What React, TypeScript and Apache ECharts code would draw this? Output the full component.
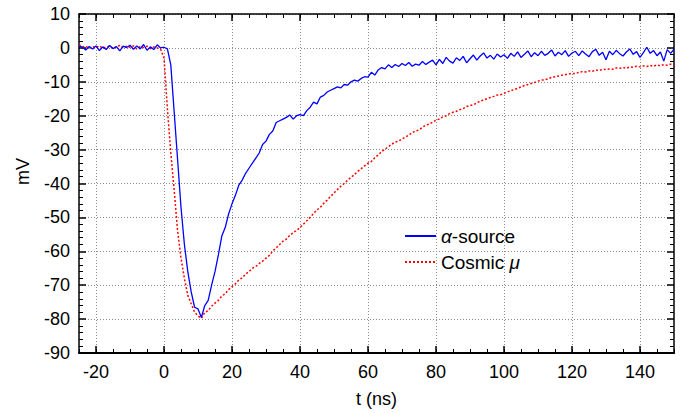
import React, { useEffect, useRef } from 'react';
import * as echarts from 'echarts';

// sampling grid of the traces (ns)
const T_START = -25;
const T_STEP = 1;

// alpha-source trace, mV, t = -25 .. 150 ns
const alphaSource = [
  0.5, 0.2, -0.6, 0.4, -0.3, 0.6, -0.8, 0.3, -0.5, 0.7, // -25..-16
  -0.2, 0.4, -0.9, 0.5, 0.1, 0.8, -0.4, 0.6, -0.3, 1.0, // -15..-6
  -0.7, 0.3, -0.5, 0.9, 0.0, 0.2, -0.3, -5, -19, -33, // -5..4
  -47, -58, -66, -72, -76.5, -77, -79.5, -76, -74.5, -70, // 5..14
  -66, -61, -55.5, -53, -49, -46, -43.5, -40.5, -39, -37, // 15..24
  -35.5, -34, -32.5, -31, -28.5, -27.5, -25.5, -24.5, -22, -21.5, // 25..34
  -21, -20.5, -19.8, -21, -20, -19.7, -20, -18.5, -17.5, -16, // 35..44
  -16.5, -14.5, -14, -13, -12.5, -12, -11.5, -11.8, -10.8, -11, // 45..54
  -10, -9.5, -9.8, -9.0, -8.5, -8.6, -7.2, -8, -6.5, -5.8, // 55..64
  -6.2, -5, -5.8, -4.9, -5.5, -4.6, -5.2, -4.3, -5.4, -4.8, // 65..74
  -5.1, -4.0, -4.9, -4.2, -3.6, -5.0, -3.4, -4.6, -2.8, -3.9, // 75..84
  -4.5, -2.9, -3.7, -2.5, -4.4, -3.2, -2.1, -3.6, -2.4, -1.5, // 85..94
  -3.0, -2.2, -3.3, -1.8, -2.7, -2.0, -3.1, -1.6, -2.5, -1.2, // 95..104
  -2.8, -1.9, -0.9, -2.6, -1.4, -2.3, -1.0, -2.2, -1.6, -0.6, // 105..114
  -2.4, -1.3, -2.0, -0.8, -2.5, -1.5, -1.0, -2.3, -0.9, -1.8, // 115..124
  -2.6, -1.1, -0.4, -2.2, -1.3, -3.5, -1.0, -2.0, -0.7, -1.7, // 125..134
  -2.4, -1.2, -0.3, -1.9, -1.1, -2.8, -1.4, 0.2, -1.6, -0.8, // 135..144
  -2.3, -1.2, -3.9, -0.5, -1.6, -0.4, // 145..150
];

// cosmic muon trace, mV, t = -25 .. 150 ns
const cosmicMu = [
  1.0, 0.3, 0.5, -0.2, 0.4, 0.1, 0.6, -0.1, 0.3, 0.5, // -25..-16
  -0.2, 0.4, 0.7, 0.0, 0.5, 0.2, 0.6, -0.3, 0.4, 0.1, // -15..-6
  0.5, -0.2, 0.3, 0.0, -0.4, -3, -18, -31, -42, -54, // -5..4
  -62, -68, -73, -75.5, -78, -79, -79.8, -78, -77.5, -76.2, // 5..14
  -75.3, -74.5, -73.2, -72.5, -71.3, -70.4, -69.6, -68.5, -67.8, -66.7, // 15..24
  -66.0, -65.0, -64.5, -63.6, -62.9, -62.0, -61.2, -59.9, -59.0, -58.0, // 25..34
  -57.0, -56.4, -55.3, -54.5, -53.8, -53.0, -52.0, -51.0, -50.0, -48.8, // 35..44
  -47.8, -47.0, -45.8, -44.9, -43.8, -42.8, -41.8, -40.8, -40.0, -39.0, // 45..54
  -38.2, -37.4, -36.4, -35.6, -34.8, -34.0, -33.5, -32.4, -31.6, -30.6, // 55..64
  -29.9, -29.1, -28.4, -27.8, -27.5, -26.9, -26.3, -25.7, -25.0, -24.5, // 65..74
  -24.2, -23.4, -22.8, -22.5, -21.9, -21.3, -21.0, -20.3, -20.0, -19.4, // 75..84
  -19.0, -18.7, -18.2, -17.9, -17.3, -17.0, -16.8, -16.2, -15.7, -15.4, // 85..94
  -15.0, -14.6, -14.3, -13.9, -13.8, -13.4, -13.0, -12.6, -12.3, -11.9, // 95..104
  -11.5, -11.1, -10.8, -10.5, -10.2, -9.8, -9.5, -9.4, -9.1, -8.7, // 105..114
  -8.5, -8.3, -8.1, -7.9, -7.7, -7.5, -7.6, -7.2, -7.0, -7.1, // 115..124
  -6.8, -6.9, -6.5, -6.7, -6.3, -6.4, -6.2, -6.3, -5.9, -6.0, // 125..134
  -5.8, -6.0, -5.6, -5.7, -5.4, -5.6, -5.3, -5.5, -5.2, -5.4, // 135..144
  -5.0, -5.3, -4.9, -5.1, -4.8, -5.0, // 145..150
];

const seriesNames = ['α-source', 'Cosmic μ'];
const xMajorTicks = [-20, 0, 20, 40, 60, 80, 100, 120, 140];
const X_MIN = -25;
const X_MAX = 150;
const Y_MIN = -90;
const Y_MAX = 10;

const FONT = '"Liberation Sans", Arial, Helvetica, sans-serif';

export default function App() {
  const ref = useRef<HTMLDivElement>(null);

  useEffect(() => {
    document.body.style.margin = '0';
    const chart = echarts.init(ref.current!, null, { renderer: 'svg' });
    const toPairs = (vals: number[]) => vals.map((v, i) => [T_START + i * T_STEP, v]);

    const majorX = (position: string, main: boolean) => ({
      type: 'value',
      position,
      min: X_MIN,
      max: X_MAX,
      splitNumber: 8,
      axisLine: { show: true, onZero: false, lineStyle: { color: '#000', width: position === 'bottom' ? 2 : 1.5 } },
      axisTick: { show: true, inside: true, length: 7, customValues: xMajorTicks, lineStyle: { color: '#000', width: 1.5 } },
      axisLabel: {
        show: main,
        customValues: xMajorTicks,
        fontSize: 18,
        color: '#000',
        fontFamily: FONT,
        margin: 10,
      },
      splitLine: { show: main, lineStyle: { color: '#8a8a8a', type: [1, 2], width: 1 } },
      name: main ? 't (ns)' : '',
      nameLocation: 'middle',
      nameGap: 37,
      nameTextStyle: { fontSize: 18, color: '#000', fontFamily: FONT },
    });
    const minorX = (position: string) => ({
      type: 'value',
      position,
      min: X_MIN,
      max: X_MAX,
      interval: 5,
      axisLine: { show: false, onZero: false },
      axisTick: { show: true, inside: true, length: 4, lineStyle: { color: '#000', width: 1 } },
      axisLabel: { show: false },
      splitLine: { show: false },
    });
    const yAx = (position: string, main: boolean) => ({
      type: 'value',
      position,
      min: Y_MIN,
      max: Y_MAX,
      interval: 10,
      axisLine: { show: true, onZero: false, lineStyle: { color: '#000', width: 1.5 } },
      axisTick: { show: true, inside: true, length: 7, lineStyle: { color: '#000', width: 1.5 } },
      minorTick: { show: true, splitNumber: 5, length: 4, lineStyle: { color: '#000', width: 1 } },
      axisLabel: { show: main, fontSize: 18, color: '#000', fontFamily: FONT, margin: 9 },
      splitLine: { show: main, lineStyle: { color: '#8a8a8a', type: [1, 2], width: 1 } },
      name: main ? 'mV' : '',
      nameLocation: 'middle',
      nameGap: 47,
      nameMoveOverlap: false,
      nameRotate: 90,
      nameTextStyle: { fontSize: 18, color: '#000', fontFamily: FONT, padding: [0, 0, 0, 24] },
    });

    const option: any = {
      animation: false,
      backgroundColor: '#fff',
      grid: { left: 79, right: 17, top: 14, bottom: 56, containLabel: false },
      xAxis: [majorX('bottom', true), minorX('bottom'), majorX('top', false), minorX('top')],
      yAxis: [yAx('left', true), yAx('right', false)],
      legend: {
        orient: 'vertical',
        left: 399,
        top: 220,
        itemWidth: 31,
        itemHeight: 14,
        itemGap: 4,
        itemStyle: { opacity: 0, borderWidth: 0 },
        data: seriesNames,
        formatter: (name: string) => (name === seriesNames[0] ? '{i|α}-source' : 'Cosmic {i|μ}'),
        textStyle: {
          fontSize: 19,
          lineHeight: 22,
          color: '#000',
          fontFamily: FONT,
          rich: {
            i: { fontStyle: 'italic', fontSize: 19, lineHeight: 22, color: '#000', fontFamily: FONT },
          },
        },
      },
      series: [
        {
          name: seriesNames[0],
          type: 'line',
          xAxisIndex: 0,
          yAxisIndex: 0,
          data: toPairs(alphaSource),
          symbol: 'none',
          showSymbol: false,
          lineStyle: { color: '#0000ff', width: 1.3 },
          itemStyle: { color: '#0000ff' },
          clip: true,
          z: 3,
        },
        {
          name: seriesNames[1],
          type: 'line',
          xAxisIndex: 0,
          yAxisIndex: 0,
          data: toPairs(cosmicMu),
          symbol: 'none',
          showSymbol: false,
          lineStyle: { color: '#ff0000', width: 1.5, type: [2, 2] },
          itemStyle: { color: '#ff0000' },
          clip: true,
          z: 2,
        },
      ],
    };

    chart.setOption(option);
    return () => chart.dispose();
  }, []);

  return <div ref={ref} style={{ width: 691, height: 413 }} />;
}
